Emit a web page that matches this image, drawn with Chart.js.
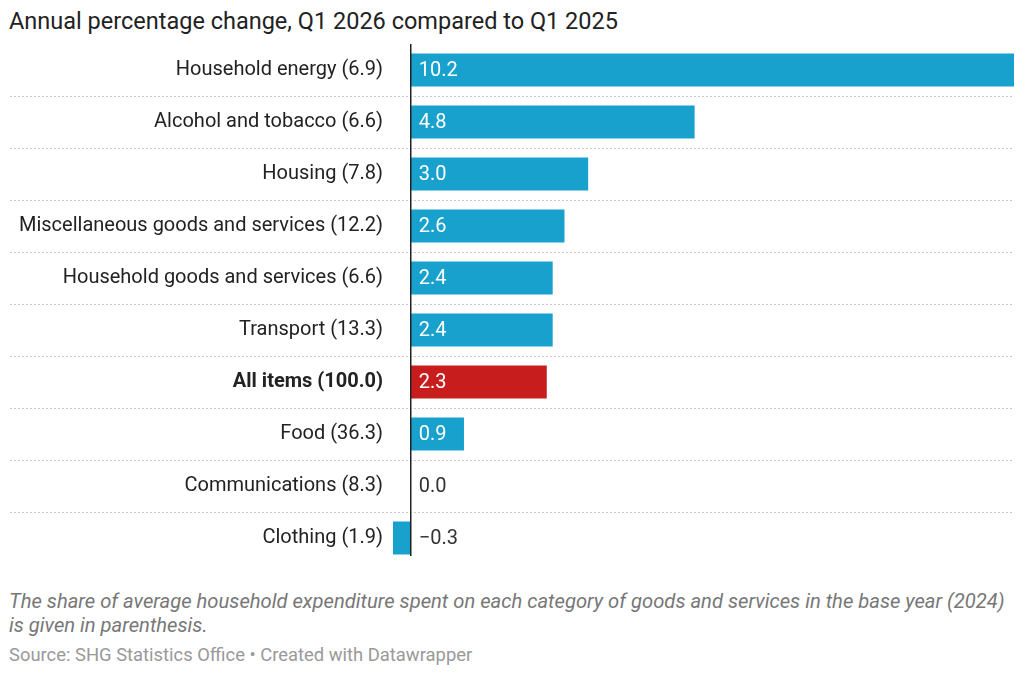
<!DOCTYPE html>
<html>
<head>
<meta charset="utf-8">
<script src="https://cdn.jsdelivr.net/npm/chart.js@4"></script>
<style>
  body { margin: 0; background: #fff; font-family: Roboto, sans-serif; width: 1024px; height: 675px; position: relative; overflow: hidden; }
  .title { position: absolute; left: 9px; top: 7px; font-size: 23.5px; color: #222; }
  .chart-wrap { position: absolute; left: 0; top: 44px; width: 1024px; height: 520px; }
  .notes { position: absolute; left: 9px; top: 589px; width: 1008px; font-size: 20.2px; font-style: italic; color: #777; line-height: 24px; }
  .source { position: absolute; left: 9px; top: 644px; font-size: 18.4px; color: #999; }
</style>
</head>
<body>
<div class="title">Annual percentage change, Q1 2026 compared to Q1 2025</div>
<div class="chart-wrap"><canvas id="chart"></canvas></div>
<div class="notes">The share of average household expenditure spent on each category of goods and services in the base year (2024) is given in parenthesis.</div>
<div class="source">Source: SHG Statistics Office • Created with Datawrapper</div>

<script>
// Data
const categories = [
    'Household energy (6.9)',
    'Alcohol and tobacco (6.6)',
    'Housing (7.8)',
    'Miscellaneous goods and services (12.2)',
    'Household goods and services (6.6)',
    'Transport (13.3)',
    'All items (100.0)',
    'Food (36.3)',
    'Communications (8.3)',
    'Clothing (1.9)'
];
const changeValues = [10.2, 4.8, 3.0, 2.6, 2.4, 2.4, 2.3, 0.9, 0.0, -0.3];
const highlightIndex = 6; // "All items"

const BLUE = '#18a1cd';
const RED = '#c71e1d';

// Separators, zero line and value labels
const decorations = {
    id: 'decorations',
    beforeDatasetsDraw(chart) {
        const { ctx, chartArea, scales } = chart;
        const y = scales.y;
        ctx.save();
        ctx.strokeStyle = '#c8c8c8';
        ctx.lineWidth = 1;
        ctx.setLineDash([2, 2]);
        for (let i = 1; i < categories.length; i++) {
            const yy = Math.round((y.getPixelForValue(i - 1) + y.getPixelForValue(i)) / 2) + 0.5;
            ctx.beginPath();
            ctx.moveTo(10, yy);
            ctx.lineTo(chartArea.right, yy);
            ctx.stroke();
        }
        ctx.restore();
    },
    afterDatasetsDraw(chart) {
        const { ctx, chartArea, scales } = chart;
        const x0 = scales.x.getPixelForValue(0);
        ctx.save();
        // zero line
        ctx.strokeStyle = '#222';
        ctx.lineWidth = 1.5;
        ctx.beginPath();
        ctx.moveTo(x0, chartArea.top);
        ctx.lineTo(x0, chartArea.bottom - 8);
        ctx.stroke();
        // value labels
        ctx.font = '20px Roboto, sans-serif';
        ctx.textAlign = 'left';
        ctx.textBaseline = 'middle';
        changeValues.forEach((v, i) => {
            const yy = scales.y.getPixelForValue(i);
            ctx.fillStyle = v > 0.05 ? '#fff' : '#333';
            const txt = v < 0 ? '\u2212' + Math.abs(v).toFixed(1) : v.toFixed(1);
            ctx.fillText(txt, x0 + 8, yy + 1);
        });
        ctx.restore();
    }
};

new Chart(document.getElementById('chart'), {
    type: 'bar',
    data: {
        labels: categories,
        datasets: [{
            data: changeValues,
            backgroundColor: changeValues.map((v, i) => i === highlightIndex ? RED : BLUE),
            borderWidth: 0,
            barPercentage: 0.635,
            categoryPercentage: 1.0
        }]
    },
    options: {
        indexAxis: 'y',
        responsive: true,
        maintainAspectRatio: false,
        animation: false,
        layout: { padding: { left: 0, right: 10, top: 0, bottom: 0 } },
        plugins: {
            legend: { display: false },
            tooltip: { enabled: false }
        },
        scales: {
            x: {
                display: false,
                min: -0.3,
                max: 10.2
            },
            y: {
                afterFit(scale) {
                    scale.width = 393;
                    scale.paddingTop = 0;
                    scale.paddingBottom = 0;
                },
                border: { display: false },
                grid: { display: false, drawTicks: false },
                ticks: {
                    padding: 10,
                    color: '#222',
                    font: (ctx) => ({
                        family: 'Roboto, sans-serif',
                        size: 20,
                        weight: ctx.index === highlightIndex ? 'bold' : 'normal'
                    })
                }
            }
        }
    },
    plugins: [decorations]
});
</script>
</body>
</html>
